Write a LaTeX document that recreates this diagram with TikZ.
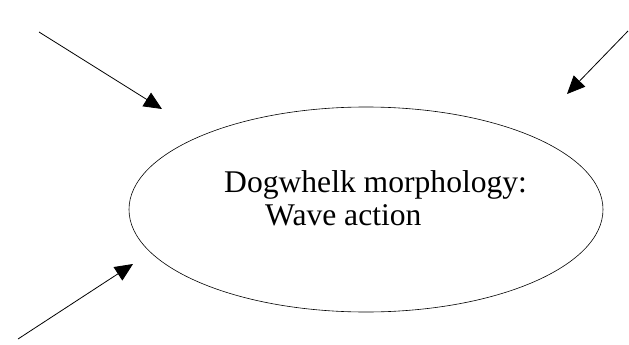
\documentclass[tikz,border=0pt]{standalone}
\usepackage{fontspec}
\setmainfont{Liberation Serif}
\usetikzlibrary{positioning,shapes.geometric,arrows.meta}

\begin{document}
\begin{tikzpicture}[x=1pt,y=-1pt,
  influence/.style={-{Triangle[length=18pt,width=16pt]},line width=0.8pt},
  lbl/.style={anchor=base west,inner sep=0pt,font=\fontsize{31.6}{33}\selectfont}]
  \useasboundingbox (0,0) rectangle (629,345);
  % central factor
  \node[ellipse,draw,line width=0.6pt,minimum width=474pt,minimum height=205pt,inner sep=0pt] (morph) at (366,209.5) {};
  \node[lbl] (title) at (224,192) {Dogwhelk morphology:};
  \node[lbl] (sub) at (265,225) {Wave action};
  % incoming arrows
  \coordinate (tl0) at (39,32);
  \coordinate (tl1) at (162,109);
  \coordinate (tr0) at (628,31);
  \coordinate (tr1) at (567,94);
  \coordinate (bl0) at (18,339);
  \coordinate (bl1) at (133,264);
  \draw[influence] (tl0) -- (tl1);
  \draw[influence] (tr0) -- (tr1);
  \draw[influence] (bl0) -- (bl1);
\end{tikzpicture}
\end{document}
